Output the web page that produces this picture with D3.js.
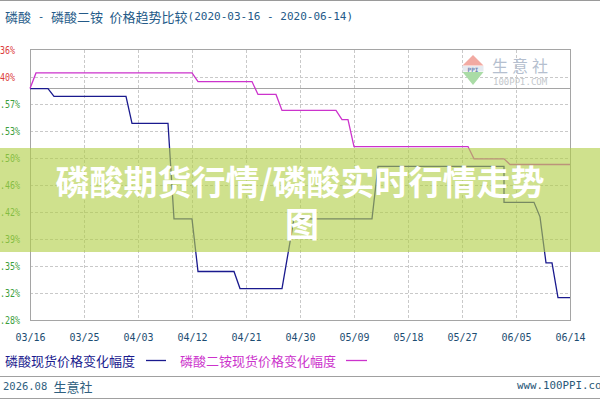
<!DOCTYPE html>
<html><head><meta charset="utf-8">
<script src="https://cdn.jsdelivr.net/npm/d3@7"></script>
<style>
html,body{margin:0;padding:0;background:#fff;}
svg{display:block;}
</style></head><body>
<svg id="c" width="600" height="400"></svg>
<script>
// ---------- data ----------
const xTickDates  = ["2020-03-16","2020-03-25","2020-04-03","2020-04-12","2020-04-21","2020-04-30","2020-05-09","2020-05-18","2020-05-27","2020-06-05","2020-06-14"];
const xTickLabels = ["03/16","03/25","04/03","04/12","04/21","04/30","05/09","05/18","05/27","06/05","06/14"];
const yTickValues = [1.36, 0.40, -0.57, -1.53, -2.50, -3.46, -4.42, -5.39, -6.35, -7.32, -8.28];
const yTickLabels = ["1.36%","0.40%","-0.57%","-1.53%","-2.50%","-3.46%","-4.42%","-5.39%","-6.35%","-7.32%","-8.28%"];

const phosDates  = ["2020-03-16","2020-03-19","2020-03-20","2020-04-01","2020-04-02","2020-04-08","2020-04-09","2020-04-12","2020-04-13","2020-04-19","2020-04-20","2020-04-27","2020-04-29","2020-05-12","2020-05-13","2020-06-03","2020-06-03","2020-06-08","2020-06-09","2020-06-10","2020-06-11","2020-06-12","2020-06-14"];
const phosValues = [0, 0, -0.28, -0.28, -1.24, -1.24, -4.65, -4.65, -6.53, -6.53, -7.14, -7.14, -4.65, -4.65, -2.78, -2.78, -4.06, -4.06, -4.58, -6.22, -6.22, -7.46, -7.46];

const dapDates  = ["2020-03-16","2020-03-17","2020-04-12","2020-04-13","2020-04-22","2020-04-23","2020-04-26","2020-04-27","2020-05-06","2020-05-07","2020-05-08","2020-05-09","2020-05-28","2020-05-29","2020-06-03","2020-06-04","2020-06-14"];
const dapValues = [0, 0.56, 0.56, 0.25, 0.25, -0.21, -0.21, -0.78, -0.78, -1.11, -1.11, -2.07, -2.07, -2.51, -2.51, -2.71, -2.71];

const titleText   = "磷酸 - 磷酸二铵 价格趋势比较(2020-03-16 - 2020-06-14)";
const legendNames = ["磷酸现货价格变化幅度", "磷酸二铵现货价格变化幅度"];
const seriesColors = ["#1a1a8e", "#cc33cc"];
const footerLeft  = "2026.08 生意社";
const footerRight = "www.100PPI.com";
const bannerLines = ["磷酸期货行情/磷酸实时行情走势", "图"];
const logoName = "生意社";
const logoSite = "100PPI.COM";

// ---------- setup ----------
const svg = d3.select("#c");
const parse = d3.utcParse("%Y-%m-%d");
const L = 30, R = 570, T = 50, B = 320;
const x = d3.scaleUtc().domain([parse(xTickDates[0]), parse(xTickDates[xTickDates.length-1])]).range([L, R]);
const y = d3.scaleLinear().domain([yTickValues[yTickValues.length-1], yTickValues[0]]).range([B, T]);
const MONO = "'DejaVu Sans Mono', monospace";
const CJK = "'Noto Sans CJK SC', sans-serif";
const isCJK = ch => /[\u3000-\u9fff\uff00-\uffef]/.test(ch);

function mixed(textSel, str, cjkSize, asciiSize) {
  const runs = [];
  for (const ch of str) {
    const c = isCJK(ch);
    if (runs.length && runs[runs.length-1].c === c) runs[runs.length-1].s += ch;
    else runs.push({c, s: ch});
  }
  runs.forEach(r => {
    textSel.append("tspan")
      .attr("font-family", r.c ? CJK : MONO)
      .attr("font-size", r.c ? cjkSize : asciiSize)
      .text(r.s);
  });
  return textSel;
}

// top line
svg.append("line").attr("x1",0).attr("x2",600).attr("y1",0.5).attr("y2",0.5).attr("stroke","#9a9a9a");

// title
mixed(svg.append("text").attr("x",5).attr("y",16).attr("dominant-baseline","central")
  .attr("fill","#245a88").attr("xml:space","preserve").style("white-space","pre"), titleText, 13, 11);

// grid
const grid = svg.append("g").attr("stroke","#c9c9c9").attr("stroke-dasharray","3,2").attr("stroke-width",1);
yTickValues.slice(1, -1).forEach(v => {
  const yy = Math.round(y(v)) + 0.5;
  grid.append("line").attr("x1",L).attr("x2",R).attr("y1",yy).attr("y2",yy);
});
xTickDates.slice(1, -1).forEach(d => {
  const xx = Math.round(x(parse(d))) + 0.5;
  grid.append("line").attr("x1",xx).attr("x2",xx).attr("y1",T).attr("y2",B);
});

// watermark logo
const lg = svg.append("g");
lg.append("path").attr("d","M473,55 L462.5,65.5 L483.5,65.5 Z").attr("fill","#f2aaa2");
lg.append("rect").attr("x",462.5).attr("y",66).attr("width",21).attr("height",5.5).attr("fill","#e6eaf0");
lg.append("text").attr("x",473).attr("y",69).attr("text-anchor","middle").attr("dominant-baseline","central")
  .attr("font-family",MONO).attr("font-size",6).attr("font-weight","bold").attr("fill","#6f86b4").text("PPI");
lg.append("path").attr("d","M462.5,72 L483.5,72 L473,85 Z").attr("fill","#aadca6");
lg.append("text").attr("x",492).attr("y",65).attr("dominant-baseline","central").attr("font-family",CJK)
  .attr("font-size",16).attr("letter-spacing",4).attr("fill","#b5bfcf").text(logoName);
lg.append("text").attr("x",493).attr("y",82).attr("dominant-baseline","central").attr("font-family",MONO)
  .attr("font-size",9).attr("fill","#c3c7cc").text(logoSite);

// frame and zero line
svg.append("rect").attr("x",L+0.5).attr("y",T-0.5).attr("width",R-L).attr("height",B-T+1)
  .attr("fill","none").attr("stroke","#a5a5a5");
const y0 = Math.round(y(0)) + 0.5;
svg.append("line").attr("x1",L).attr("x2",R).attr("y1",y0).attr("y2",y0).attr("stroke","#a5a5a5");

// series
const line = d3.line().x(d => x(d[0])).y(d => y(d[1]));
const series = [
  phosDates.map((d,i) => [parse(d), phosValues[i]]),
  dapDates.map((d,i) => [parse(d), dapValues[i]])
];
series.forEach((s, i) => {
  svg.append("path").datum(s).attr("d", line).attr("transform","translate(0,0.5)")
    .attr("fill","none").attr("stroke", seriesColors[i]).attr("stroke-width",1.3);
});

// x axis
const gx = svg.append("g").attr("transform",`translate(0,${B})`)
  .call(d3.axisBottom(x).tickValues(xTickDates.map(parse)).tickFormat((d,i) => xTickLabels[i]).tickSize(0));
gx.select(".domain").remove();
gx.selectAll("text").attr("y",17).attr("dy",null).attr("dominant-baseline","central")
  .attr("font-family",MONO).attr("font-size",10).attr("fill","#1d4d72");

// y axis
const gy = svg.append("g")
  .call(d3.axisLeft(y).tickValues(yTickValues).tickFormat((d,i) => yTickLabels[i]).tickSize(0));
gy.select(".domain").remove();
gy.selectAll("text").attr("x",-10).attr("dy",null).attr("y",0).attr("dominant-baseline","central")
  .attr("text-anchor","start").attr("font-family",MONO).attr("font-size",10)
  .attr("textLength",(d,i) => yTickLabels[i].length*5).attr("lengthAdjust","spacingAndGlyphs")
  .attr("fill", d => d >= 0 ? "#dc3b3b" : "#3c9e3c");

// legend
const legX = [5, 180], legLine = [[146,166],[346,367]];
legendNames.forEach((n, i) => {
  svg.append("text").attr("x",legX[i]).attr("y",360).attr("dominant-baseline","central")
    .attr("font-family",CJK).attr("font-size",13).attr("fill",seriesColors[i]).text(n);
  svg.append("line").attr("x1",legLine[i][0]).attr("x2",legLine[i][1]).attr("y1",360.5).attr("y2",360.5)
    .attr("stroke",seriesColors[i]).attr("stroke-width",1.3);
});

// footer
svg.append("line").attr("x1",0).attr("x2",600).attr("y1",376.5).attr("y2",376.5).attr("stroke","#a0a0a0");
svg.append("line").attr("x1",0).attr("x2",600).attr("y1",398.5).attr("y2",398.5).attr("stroke","#a0a0a0");
mixed(svg.append("text").attr("x",3).attr("y",385.5).attr("dominant-baseline","central")
  .attr("fill","#2f6080").style("white-space","pre"), footerLeft, 13, 10.5);
svg.append("text").attr("x",517).attr("y",385.5).attr("dominant-baseline","central")
  .attr("font-family",MONO).attr("font-size",10.8).attr("fill","#2a5878").text(footerRight);

// banner overlay
svg.append("rect").attr("x",0).attr("y",148).attr("width",600).attr("height",104)
  .attr("fill","rgb(178,206,71)").attr("fill-opacity",0.62);
const bannerY = [180, 222], bannerX = [300, 302];
bannerLines.forEach((t, i) => {
  svg.append("text").attr("x",bannerX[i]).attr("y",bannerY[i]).attr("text-anchor","middle")
    .attr("dominant-baseline","central").attr("font-family",CJK).attr("font-weight",700)
    .attr("font-size",34).attr("fill","#ffffff").text(t);
});
</script>
</body></html>
